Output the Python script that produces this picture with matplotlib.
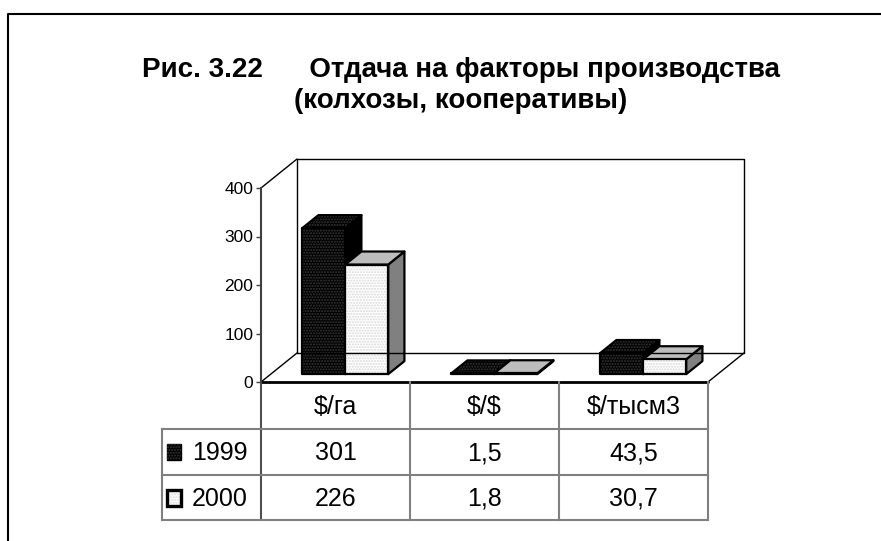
import matplotlib.pyplot as plt
from matplotlib.patches import Polygon, Rectangle
from matplotlib.transforms import blended_transform_factory

plt.rcParams['font.family'] = ['Liberation Sans', 'DejaVu Sans']

# data
categories = ['$/га', '$/$', '$/тысм3']
years = ['1999', '2000']
values_1999 = [301, 1.5, 43.5]
values_2000 = [226, 1.8, 30.7]
labels_1999 = ['301', '1,5', '43,5']
labels_2000 = ['226', '1,8', '30,7']
yticks = [0, 100, 200, 300, 400]
title_1 = 'Рис. 3.22      Отдача на факторы производства'
title_2 = '(колхозы, кооперативы)'

W, H = 881, 541
fig = plt.figure(figsize=(W / 100, H / 100), dpi=100)

# background axes in pixel units (frame, title, table)
bg = fig.add_axes([0, 0, 1, 1])
bg.set_xlim(0, W)
bg.set_ylim(H, 0)
bg.axis('off')

# front plane of the pseudo-3d chart
ax = fig.add_axes([261 / W, (H - 382) / H, 447 / W, 194 / H])
ax.set_xlim(0, len(categories))
ax.set_ylim(0, 400)
ax.patch.set_visible(False)
for s in ['top', 'right', 'bottom']:
    ax.spines[s].set_visible(False)
ax.spines['left'].set_color('#404040')
ax.spines['left'].set_linewidth(1.5)
ax.set_xticks([])
ax.set_yticks(yticks)
ax.tick_params(axis='y', length=3.6, width=1, labelsize=12.5, pad=2, color='#404040')

# depth direction (full depth) in data units
DX = 36 / 447 * 3
DY = 29 / 194 * 400


def P(x, v, d):
    return (x + d * DX, v + d * DY)


def face(pts, color, hatch=None, hcolor=None):
    ax.add_patch(Polygon(pts, closed=True, facecolor=color, edgecolor='none',
                         lw=0, clip_on=False))
    if hatch:
        ax.add_patch(Polygon(pts, closed=True, fill=False, edgecolor=hcolor,
                             hatch=hatch, lw=0, clip_on=False))
    ax.add_patch(Polygon(pts, closed=True, fill=False, edgecolor='black',
                         lw=1.6, joinstyle='round', clip_on=False))


def line(pts, **kw):
    xs, ys = zip(*pts)
    ax.plot(xs, ys, color='black', clip_on=False, solid_capstyle='round', **kw)


n = len(categories)
# back wall, side wall, floor
line([P(0, 0, 1), P(0, 400, 1), P(n, 400, 1), P(n, 0, 1), P(0, 0, 1)], lw=1)
line([P(0, 400, 0), P(0, 400, 1)], lw=1)
line([P(0, 0, 0), P(0, 0, 1)], lw=1)
line([P(n, 0, 0), P(n, 0, 1)], lw=1)

bw = 43 / 149
d0, d1 = 0.27, 0.72
dark_dots = '#383838'
light_dots = '#d8d8d8'


def bar(x0, x1, v, dark):
    front = [P(x0, 0, d0), P(x1, 0, d0), P(x1, v, d0), P(x0, v, d0)]
    top = [P(x0, v, d0), P(x1, v, d0), P(x1, v, d1), P(x0, v, d1)]
    side = [P(x1, 0, d0), P(x1, 0, d1), P(x1, v, d1), P(x1, v, d0)]
    if dark:
        face(side, 'black')
        face(top, 'black', '......', dark_dots)
        face(front, 'black', '......', dark_dots)
    else:
        face(side, '#808080')
        face(top, '#bdbdbd')
        face(front, 'white', '......', light_dots)


for i, (a, b) in enumerate(zip(values_1999, values_2000)):
    c = i + 0.5
    bar(c - bw, c, a, True)
    bar(c, c + bw, b, False)

# front floor edge
line([(0, 0), (n, 0)], lw=2)

# data table under the chart
tr = blended_transform_factory(ax.transData, bg.transData)
rows = [382, 429, 475, 520]
x_leg = -99 / 149
gray = '#808080'
for k in range(n + 1):
    ax.plot([k, k], [rows[0], rows[-1]], transform=tr, color='#505050' if k == 0 else gray,
            lw=1.5, clip_on=False)
for yy in rows[1:]:
    ax.plot([x_leg, n], [yy, yy], transform=tr, color=gray, lw=1.5, clip_on=False)
ax.plot([x_leg, x_leg], [rows[1], rows[-1]], transform=tr, color=gray, lw=1.5, clip_on=False)

fs = 18
for k, cat in enumerate(categories):
    ax.text(k + 0.5, (rows[0] + rows[1]) / 2 + 1, cat, transform=tr, ha='center', va='center',
            fontsize=fs, parse_math=False)
    ax.text(k + 0.5, (rows[1] + rows[2]) / 2 + 1, labels_1999[k], transform=tr, ha='center',
            va='center', fontsize=fs)
    ax.text(k + 0.5, (rows[2] + rows[3]) / 2 + 1, labels_2000[k], transform=tr, ha='center',
            va='center', fontsize=fs)

for r, (yr, dark) in enumerate(zip(years, [True, False])):
    yc = (rows[r + 1] + rows[r + 2]) / 2
    kx = x_leg + 5 / 149
    if dark:
        ax.add_patch(Rectangle((kx, yc - 8), 14 / 149, 16, transform=tr, facecolor='black',
                               edgecolor='black', lw=1, clip_on=False))
        ax.add_patch(Rectangle((kx, yc - 8), 14 / 149, 16, transform=tr, fill=False,
                               edgecolor=dark_dots, hatch='......', lw=0, clip_on=False))
    else:
        ax.add_patch(Rectangle((kx, yc - 8), 14 / 149, 16, transform=tr, facecolor='white',
                               edgecolor='none', lw=0, clip_on=False))
        ax.add_patch(Rectangle((kx, yc - 8), 14 / 149, 16, transform=tr, fill=False,
                               edgecolor=light_dots, hatch='......', lw=0, clip_on=False))
        ax.add_patch(Rectangle((kx, yc - 8), 14 / 149, 16, transform=tr, fill=False,
                               edgecolor='black', lw=2.4, clip_on=False))
    ax.text(x_leg + 30 / 149, yc + 1, yr, transform=tr, ha='left', va='center', fontsize=fs)

# outer frame and title
bg.plot([8, 8, W], [H, 14, 14], color='black', lw=1.5)
bg.text(461, 70, title_1, ha='center', va='center', fontsize=20, fontweight='bold')
bg.text(461, 101, title_2, ha='center', va='center', fontsize=20, fontweight='bold')

fig.savefig('out.png', dpi=100)
